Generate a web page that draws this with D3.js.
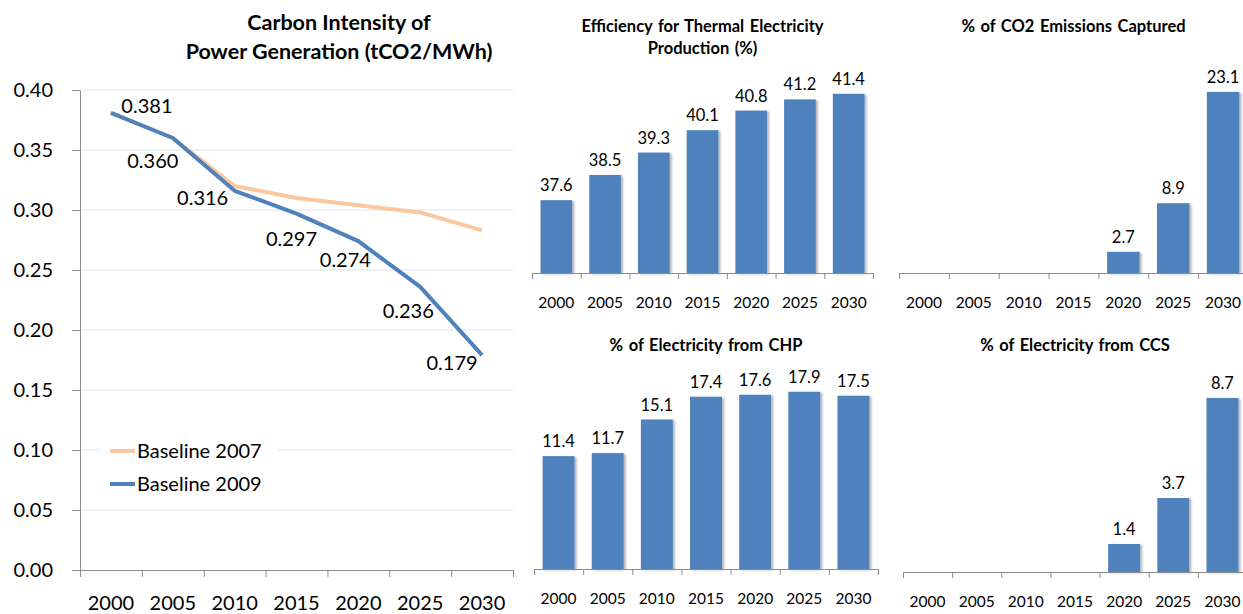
<!DOCTYPE html>
<html>
<head>
<meta charset="utf-8">
<script src="https://cdn.jsdelivr.net/npm/d3@7"></script>
<style>
  body { margin: 0; background: #fff; }
  svg { display: block; font-family: Lato, "Open Sans", sans-serif; }
</style>
</head>
<body>
<div id="chart"></div>
<script>
// data
const years = ["2000", "2005", "2010", "2015", "2020", "2025", "2030"];
const baseline2007 = [0.381, 0.360, 0.320, 0.310, 0.304, 0.298, 0.283];
const baseline2009 = [0.381, 0.360, 0.316, 0.297, 0.274, 0.236, 0.179];
const carbonTicks = [0, 0.05, 0.10, 0.15, 0.20, 0.25, 0.30, 0.35, 0.40];
const efficiency = [37.6, 38.5, 39.3, 40.1, 40.8, 41.2, 41.4];
const co2Captured = [0, 0, 0, 0, 2.7, 8.9, 23.1];
const chpShare = [11.4, 11.7, 15.1, 17.4, 17.6, 17.9, 17.5];
const ccsShare = [0, 0, 0, 0, 1.4, 3.7, 8.7];

const W = 1243, H = 614;
const blue = "#4F81BD", peach = "#FAC8A0", grid = "#DCE5F1", axisCol = "#8C8C8C";

let svg = d3.select("#chart").append("svg")
    .attr("width", W)
    .attr("height", H);

let defs = svg.append("defs");
defs.append("filter").attr("id", "shadow")
    .attr("x", "-20%").attr("y", "-20%").attr("width", "150%").attr("height", "150%")
  .append("feDropShadow")
    .attr("dx", 2).attr("dy", 1).attr("stdDeviation", 1.2)
    .attr("flood-color", "#000").attr("flood-opacity", 0.3);

// ---------- left: carbon intensity line chart ----------
const L = {left: 80, right: 513, top: 90, bottom: 570};

let x = d3.scaleBand().domain(years).range([L.left, L.right]);
let y = d3.scaleLinear().domain([0, 0.4]).range([L.bottom, L.top]);
let xIdx = d3.scaleLinear().domain([0, years.length]).range([L.left, L.right]);

let title = svg.append("text")
    .attr("text-anchor", "middle")
    .attr("font-weight", "bold")
    .attr("font-size", 21.5)
    .attr("fill", "#000");
title.append("tspan").attr("x", 339).attr("y", 30).text("Carbon Intensity of");
title.append("tspan").attr("x", 339).attr("y", 59).text("Power Generation (tCO2/MWh)");

svg.append("g")
  .selectAll("line")
  .data(carbonTicks.filter(d => d > 0))
  .enter().append("line")
    .attr("x1", L.left).attr("x2", L.right)
    .attr("y1", d => y(d)).attr("y2", d => y(d))
    .attr("stroke", grid).attr("stroke-width", 1);

let yAxis = svg.append("g")
    .attr("transform", `translate(${L.left},0)`)
    .call(d3.axisLeft(y).tickValues(carbonTicks).tickFormat(d3.format(".2f")).tickSize(8).tickSizeOuter(0));
yAxis.select(".domain").attr("stroke", axisCol);
yAxis.selectAll(".tick line").attr("stroke", axisCol);
yAxis.selectAll(".tick text")
    .attr("x", -27)
    .attr("font-size", 20)
    .attr("font-family", "Lato")
    .attr("fill", "#000");

let xAxis = svg.append("g")
    .attr("transform", `translate(0,${L.bottom})`)
    .call(d3.axisBottom(xIdx).tickValues(d3.range(years.length + 1)).tickFormat("").tickSize(7).tickSizeOuter(0));
xAxis.select(".domain").attr("stroke", axisCol);
xAxis.selectAll(".tick line").attr("stroke", axisCol);

let xLab = svg.append("g")
    .attr("transform", `translate(0,${L.bottom})`)
    .call(d3.axisBottom(x).tickSize(0));
xLab.select(".domain").remove();
xLab.selectAll(".tick text")
    .attr("y", 40).attr("dy", 0)
    .attr("font-size", 20)
    .attr("font-family", "Lato")
    .attr("fill", "#000");

let line = d3.line()
    .x((d, i) => x(years[i]) + x.bandwidth() / 2)
    .y(d => y(d));

svg.append("path")
    .datum(baseline2007)
    .attr("d", line)
    .attr("fill", "none")
    .attr("stroke", peach)
    .attr("stroke-width", 4)
    .attr("stroke-linejoin", "round");

svg.append("path")
    .datum(baseline2009)
    .attr("d", line)
    .attr("fill", "none")
    .attr("stroke", blue)
    .attr("stroke-width", 4)
    .attr("stroke-linejoin", "round");

// label offsets (moved by hand in the original)
const labelOffsets = [[36, 0], [-20, 30], [-32, 14], [-5, 32], [-13, 26], [-12, 31], [-30, 15]];
svg.append("g")
  .selectAll("text")
  .data(baseline2009)
  .enter().append("text")
    .attr("x", (d, i) => x(years[i]) + x.bandwidth() / 2 + labelOffsets[i][0])
    .attr("y", (d, i) => y(d) + labelOffsets[i][1])
    .attr("text-anchor", "middle")
    .attr("font-size", 20)
    .attr("fill", "#000")
    .text(d => d3.format(".3f")(d));

// legend
let legend = svg.append("g").attr("transform", "translate(100,436)");
legend.append("rect").attr("width", 178).attr("height", 64).attr("fill", "#fff");
[["Baseline 2007", peach], ["Baseline 2009", blue]].forEach((s, i) => {
    legend.append("line")
        .attr("x1", 10).attr("x2", 35)
        .attr("y1", 15 + i * 33).attr("y2", 15 + i * 33)
        .attr("stroke", s[1]).attr("stroke-width", 4);
    legend.append("text")
        .attr("x", 37).attr("y", 22 + i * 33)
        .attr("font-size", 20)
        .attr("fill", "#000")
        .text(s[0]);
});

// ---------- right: four small bar charts ----------
const panels = [
    {values: efficiency, domain: [35, 42], title: ["Efficiency for Thermal Electricity", "Production (%)"],
     x0: 532, x1: 873, top: 77, base: 273, titleY: 32},
    {values: co2Captured, domain: [0, 25], title: ["% of CO2 Emissions Captured"],
     x0: 899, x1: 1248, top: 77, base: 273, titleY: 32},
    {values: chpShare, domain: [0, 20], title: ["% of Electricity from CHP"],
     x0: 534, x1: 878, top: 371, base: 569, titleY: 351},
    {values: ccsShare, domain: [0, 10], title: ["% of Electricity from CCS"],
     x0: 903, x1: 1247, top: 372, base: 572, titleY: 351}
];

panels.forEach(p => {
    let g = svg.append("g");
    let bx = d3.scaleBand().domain(years).range([p.x0, p.x1]).paddingInner(0.35).paddingOuter(0.175);
    let by = d3.scaleLinear().domain(p.domain).range([p.base, p.top]);
    let bIdx = d3.scaleLinear().domain([0, years.length]).range([p.x0, p.x1]);

    let t = g.append("text")
        .attr("text-anchor", "middle")
        .attr("font-weight", "bold")
        .attr("font-size", 16.5)
        .attr("word-spacing", 1.5)
        .attr("fill", "#000");
    p.title.forEach((s, i) => {
        t.append("tspan").attr("x", (p.x0 + p.x1) / 2).attr("y", p.titleY + i * 22).text(s);
    });

    let rows = years.map((yr, i) => ({year: yr, value: p.values[i]}));

    g.append("g")
      .selectAll("rect")
      .data(rows.filter(d => d.value > 0))
      .enter().append("rect")
        .attr("x", d => bx(d.year))
        .attr("y", d => by(Math.max(d.value, p.domain[0])))
        .attr("width", bx.bandwidth())
        .attr("height", d => p.base - by(Math.max(d.value, p.domain[0])))
        .attr("fill", blue)
        .attr("filter", "url(#shadow)");

    g.append("g")
      .selectAll("text")
      .data(rows.filter(d => d.value > 0))
      .enter().append("text")
        .attr("x", d => bx(d.year) + bx.bandwidth() / 2)
        .attr("y", d => by(d.value) - 9)
        .attr("text-anchor", "middle")
        .attr("font-size", 16.5)
        .attr("fill", "#000")
        .text(d => d3.format(".1f")(d.value));

    let ax = g.append("g")
        .attr("transform", `translate(0,${p.base})`)
        .call(d3.axisBottom(bIdx).tickValues(d3.range(years.length + 1)).tickFormat("").tickSize(6).tickSizeOuter(0));
    ax.select(".domain").attr("stroke", axisCol);
    ax.selectAll(".tick line").attr("stroke", axisCol);

    let lab = g.append("g")
        .attr("transform", `translate(0,${p.base})`)
        .call(d3.axisBottom(bx).tickSize(0));
    lab.select(".domain").remove();
    lab.selectAll(".tick text")
        .attr("y", 35).attr("dy", 0)
        .attr("font-size", 15.5)
        .attr("font-family", "Lato")
        .attr("fill", "#000");
});
</script>
</body>
</html>
